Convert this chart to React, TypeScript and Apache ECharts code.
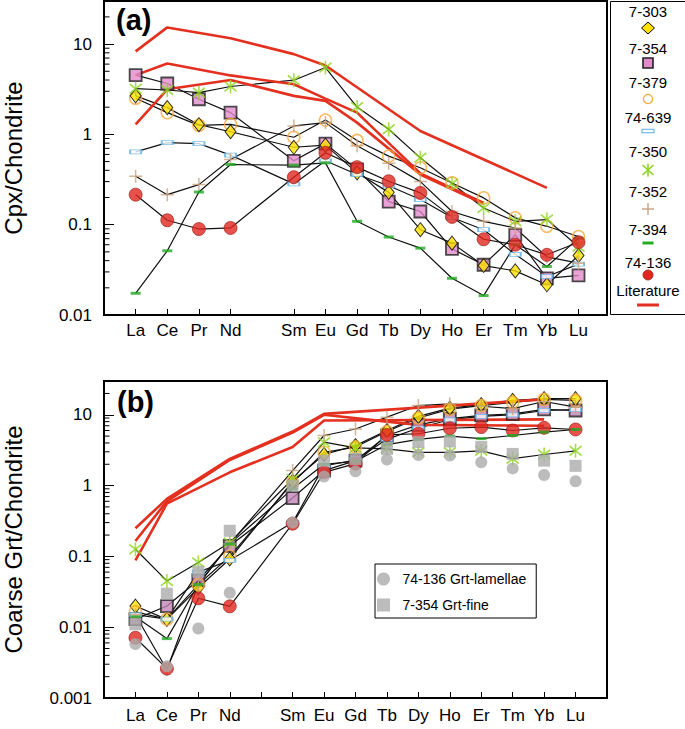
import React, { useEffect, useRef } from "react";
import * as echarts from "echarts";

// ---------- DATA ----------
const REE = ["La", "Ce", "Pr", "Nd", "Sm", "Eu", "Gd", "Tb", "Dy", "Ho", "Er", "Tm", "Yb", "Lu"];
const ATOMIC = [57, 58, 59, 60, 62, 63, 64, 65, 66, 67, 68, 69, 70, 71];

const SAMPLES = ["7-303", "7-354", "7-379", "74-639", "7-350", "7-352", "7-394", "74-136"];

// Panel (a): Cpx / Chondrite
const cpx7303 = [2.67, 1.98, 1.28, 1.07, 0.72, 0.76, 0.375, 0.228, 0.088, 0.0625, 0.0353, 0.0308, 0.0216, 0.0456];
const cpx7354 = [4.53, 3.66, 2.45, 1.74, 0.51, 0.79, 0.41, 0.18, 0.14, 0.054, 0.036, 0.077, 0.0255, 0.0274];
const cpx7379 = [2.51, 1.74, 1.26, 1.29, 0.93, 1.44, 0.857, 0.574, 0.427, 0.29, 0.198, 0.119, 0.096, 0.074];
const cpx74639 = [0.64, 0.81, 0.79, 0.59, 0.283, 0.51, 0.36, 0.27, 0.19, 0.12, 0.088, 0.047, 0.0267, 0.0366];
const cpx7350 = [3.21, 3.1, 2.9, 3.39, 3.98, 5.5, 2.01, 1.14, 0.55, 0.286, 0.153, 0.109, 0.114, 0.057];
const cpx7352 = [0.344, 0.215, 0.278, 0.527, 1.24, 1.35, 0.75, 0.48, 0.3, 0.14, 0.109, 0.092, 0.044, 0.0375];
const cpx7394 = [0.0174, 0.0514, 0.23, 0.464, 0.456, 0.484, 0.109, 0.073, 0.055, 0.0255, 0.0164, 0.06, 0.0344, 0.071];
const cpx74136 = [0.215, 0.112, 0.0895, 0.092, 0.336, 0.625, 0.434, 0.303, 0.225, 0.122, 0.069, 0.06, 0.0464, 0.064];

const litCpx1El = ["La", "Ce", "Nd", "Sm", "Eu", "Dy", "Yb"];
const litCpx1 = [8.3, 15.3, 11.6, 7.74, 5.8, 1.09, 0.256];
const litCpx2El = ["La", "Ce", "Nd", "Sm", "Eu", "Gd", "Dy", "Er"];
const litCpx2 = [4.53, 6.1, 4.5, 3.59, 2.49, 1.74, 0.37, 0.174];
const litCpx3El = ["La", "Ce", "Nd", "Sm", "Eu", "Gd", "Dy", "Er"];
const litCpx3 = [1.29, 3.16, 4.0, 2.67, 2.35, 1.35, 0.36, 0.17];

// Panel (b): Coarse Grt / Chondrite
const grt7303 = [0.0199, 0.0129, 0.036, 0.092, 1.15, 2.75, 3.67, 6.0, 9.5, 12.4, 13.9, 16, 16.9, 16.9];
const grt7354 = [0.013, 0.0199, 0.046, 0.141, 0.667, 1.63, 2.25, 5.1, 7.2, 8.8, 9.8, 10.3, 11.9, 11.5];
const grt7379 = [0.0165, 0.013, 0.04, 0.1, 1.1, 2.95, 3.5, 5.8, 9.0, 12.0, 13.5, 15.0, 16.5, 16.0];
const grt74639 = [0.015, 0.013, 0.06, 0.088, 0.3, 1.9, 2.3, 4.5, 6.5, 8.5, 9.5, 10.0, 11.5, 11.8];
const grt7350 = [0.126, 0.045, 0.082, 0.157, 1.24, 4.1, 3.4, 3.3, 2.95, 2.95, 3.1, 2.4, 2.75, 3.1];
const grt7352 = [0.015, 0.0025, 0.04, 0.15, 1.63, 5.1, 6.3, 9.25, 13.5, 14.3, 13.2, 12.2, 15.4, 12.8];
const grt7394 = [0.014, 0.0069, 0.04, 0.15, 0.9, 2.0, 2.2, 3.8, 4.5, 5.0, 4.6, 5.1, 5.7, 6.2];
const grt74136 = [0.0071, 0.0026, 0.0256, 0.0197, 0.29, 1.54, 2.04, 5.2, 5.4, 6.45, 6.7, 6.0, 6.55, 6.2];
const grtLamellae74136 = [0.0058, 0.0028, 0.0096, 0.0307, 0.3, 1.34, 1.59, 2.33, 2.71, 2.66, 2.13, 1.75, 1.41, 1.15];
const grtFine7354 = [0.011, 0.0297, 0.061, 0.23, 1.0, 2.25, 2.38, 3.3, 4.1, 4.2, 3.5, 2.8, 2.25, 1.9];

const litGrtAEl = ["La", "Ce", "Nd", "Sm", "Eu", "Yb"];
const litGrtA = [0.25, 0.65, 2.38, 5.8, 10.3, 16.5];
const litGrtBEl = ["La", "Ce", "Nd", "Sm", "Eu", "Yb"];
const litGrtB = [0.088, 0.555, 1.54, 3.5, 8.3, 8.6];
const litGrtCEl = ["La", "Ce", "Nd", "Sm", "Eu", "Tb", "Dy", "Yb"];
const litGrtC = [0.165, 0.6, 2.3, 5.6, 10.0, 8.0, 7.2, 7.0];

// axis tick values
const minorTicksA = [0.02, 0.03, 0.04, 0.05, 0.06, 0.07, 0.08, 0.09, 0.2, 0.3, 0.4, 0.5, 0.6, 0.7, 0.8, 0.9, 2, 3, 4, 5, 6, 7, 8, 9, 20];
const minorTicksB = [0.002, 0.003, 0.004, 0.005, 0.006, 0.007, 0.008, 0.009, 0.02, 0.03, 0.04, 0.05, 0.06, 0.07, 0.08, 0.09, 0.2, 0.3, 0.4, 0.5, 0.6, 0.7, 0.8, 0.9, 2, 3, 4, 5, 6, 7, 8, 9, 20];

const LAMELLAE_NAME = "74-136 Grt-lamellae";
const FINE_NAME = "7-354 Grt-fine";

// ---------- STYLES ----------
const FONT = "'Liberation Sans', Arial, Helvetica, sans-serif";
const LIT_RED = "#E3301F";
const ASTERISK = "path://M5,0L5,10M0.8,1.6L9.2,8.4M0.8,8.4L9.2,1.6";
const PLUS = "path://M5,0L5,10M0,5L10,5";
const SQUARE = "path://M0,0L10,0L10,10L0,10Z";

const symStyle = (name: string, panel: number): any => {
  switch (name) {
    case "7-303":
      return { symbol: "diamond", symbolSize: [11, 14], itemStyle: { color: "#FFE100", borderColor: "#000", borderWidth: 1 } };
    case "7-354":
      return { symbol: "rect", symbolSize: 12, itemStyle: { color: panel === 0 ? "#E28BCB" : "#C283B5", borderColor: "#222", borderWidth: 1.8 } };
    case "7-379":
      return { symbol: "circle", symbolSize: 12, itemStyle: { color: "rgba(255,255,255,0)", borderColor: "#F7A93C", borderWidth: 1.5 } };
    case "74-639":
      return { symbol: "rect", symbolSize: [11, 4], itemStyle: { color: "#ffffff", borderColor: "#5AAFE3", borderWidth: 1.2 } };
    case "7-350":
      return { symbol: ASTERISK, symbolSize: [12, 14], itemStyle: { color: "rgba(0,0,0,0)", borderColor: "#8FD41F", borderWidth: 1.7 } };
    case "7-352":
      return { symbol: PLUS, symbolSize: 13, itemStyle: { color: "rgba(0,0,0,0)", borderColor: "#C9A27E", borderWidth: 1.5 } };
    case "7-394":
      return { symbol: "rect", symbolSize: [10, 3], itemStyle: { color: "#22AA22" } };
    default:
      return { symbol: "circle", symbolSize: 13, itemStyle: { color: "#E0261E", borderColor: "#9B1B14", borderWidth: 0.8 } };
  }
};

const cpxData: Record<string, number[]> = {
  "7-303": cpx7303, "7-354": cpx7354, "7-379": cpx7379, "74-639": cpx74639,
  "7-350": cpx7350, "7-352": cpx7352, "7-394": cpx7394, "74-136": cpx74136,
};
const grtData: Record<string, number[]> = {
  "7-303": grt7303, "7-354": grt7354, "7-379": grt7379, "74-639": grt74639,
  "7-350": grt7350, "7-352": grt7352, "7-394": grt7394, "74-136": grt74136,
};

const ORDER_A = ["7-354", "7-379", "7-303", "74-639", "7-350", "7-352", "7-394", "74-136"];
const ORDER_B = ["7-354", "7-303", "7-379", "74-639", "7-350", "7-352", "74-136", "7-394"];

const full = (vals: number[]) => ATOMIC.map((z, i) => [z, vals[i]]);
const pts = (els: string[], vals: number[]) => els.map((e, i) => [ATOMIC[REE.indexOf(e)], vals[i]]);

const xName = (v: number) => {
  const r = Math.round(v);
  if (Math.abs(v - r) > 1e-6) return "";
  const i = ATOMIC.indexOf(r);
  return i >= 0 ? REE[i] : "";
};
const yFmt = (v: number) => (v > 15 ? "" : String(+Number(v).toPrecision(3)));

const GRIDS = [
  { left: 104, top: 1, width: 503, height: 314 },
  { left: 104, top: 381, width: 503, height: 317 },
];

// ---------- LEGEND (a) layout ----------
const LEG_ITEMS = [...SAMPLES, "Literature"];
const LEG_TEXT_Y = [11, 48, 82, 117, 151, 191, 229, 262, 290];
const LEG_SYM_Y = [28, 63, 99, 131, 170, 209, 243, 275, 305];
const LEG_CX = 648;
const LZ = 100;

const legendIcon = (name: string, cx: number, cy: number): any[] => {
  switch (name) {
    case "7-303":
      return [{ type: "polygon", z: LZ, shape: { points: [[cx, cy - 6], [cx + 6.5, cy], [cx, cy + 6], [cx - 6.5, cy]] }, style: { fill: "#FFE100", stroke: "#000", lineWidth: 1 } }];
    case "7-354":
      return [{ type: "rect", z: LZ, shape: { x: cx - 5, y: cy - 5, width: 10, height: 10 }, style: { fill: "#E28BCB", stroke: "#222", lineWidth: 1.6 } }];
    case "7-379":
      return [{ type: "circle", z: LZ, shape: { cx, cy, r: 4.6 }, style: { fill: "none", stroke: "#F7A93C", lineWidth: 1.3 } }];
    case "74-639":
      return [{ type: "rect", z: LZ, shape: { x: cx - 6, y: cy - 1.8, width: 12, height: 3.6 }, style: { fill: "#fff", stroke: "#5AAFE3", lineWidth: 1.1 } }];
    case "7-350":
      return [
        { type: "line", z: LZ, shape: { x1: cx, y1: cy - 6.5, x2: cx, y2: cy + 6.5 }, style: { stroke: "#8FD41F", lineWidth: 1.6 } },
        { type: "line", z: LZ, shape: { x1: cx - 5.5, y1: cy - 5, x2: cx + 5.5, y2: cy + 5 }, style: { stroke: "#8FD41F", lineWidth: 1.6 } },
        { type: "line", z: LZ, shape: { x1: cx - 5.5, y1: cy + 5, x2: cx + 5.5, y2: cy - 5 }, style: { stroke: "#8FD41F", lineWidth: 1.6 } },
      ];
    case "7-352":
      return [
        { type: "line", z: LZ, shape: { x1: cx, y1: cy - 6, x2: cx, y2: cy + 6 }, style: { stroke: "#C9A27E", lineWidth: 1.4 } },
        { type: "line", z: LZ, shape: { x1: cx - 6, y1: cy, x2: cx + 6, y2: cy }, style: { stroke: "#C9A27E", lineWidth: 1.4 } },
      ];
    case "7-394":
      return [{ type: "rect", z: LZ, shape: { x: cx - 5.5, y: cy - 1.5, width: 11, height: 3 }, style: { fill: "#22AA22" } }];
    case "74-136":
      return [{ type: "circle", z: LZ, shape: { cx, cy, r: 5 }, style: { fill: "#E0261E", stroke: "#9B1B14", lineWidth: 0.8 } }];
    default:
      return [{ type: "line", z: LZ, shape: { x1: cx - 11, y1: cy, x2: cx + 11, y2: cy }, style: { stroke: LIT_RED, lineWidth: 3 } }];
  }
};

function buildOption(): any {
  const series: any[] = [];

  const blackLines = (data: Record<string, number[]>, p: number) =>
    SAMPLES.forEach((s) =>
      series.push({
        type: "line", name: s, xAxisIndex: p, yAxisIndex: p, data: full(data[s]),
        symbol: "none", silent: true, z: 2,
        lineStyle: { color: "#111", width: 1.2 },
      })
    );
  const litLine = (d: number[][], p: number) =>
    series.push({
      type: "line", name: "Literature", xAxisIndex: p, yAxisIndex: p, data: d,
      symbol: "none", silent: true, z: 3,
      lineStyle: { color: LIT_RED, width: 2.6 },
    });
  const marks = (data: Record<string, number[]>, p: number, order: string[]) =>
    order.forEach((s) =>
      series.push({
        type: "scatter", name: s, xAxisIndex: p, yAxisIndex: p, data: full(data[s]), z: 4,
        ...symStyle(s, p),
      })
    );
  const minorTicks = (vals: number[], p: number) =>
    series.push({
      type: "custom", xAxisIndex: p, yAxisIndex: p, silent: true, z: 6, clip: false,
      dimensions: ["x", "y"],
      encode: { x: 0, y: 1 },
      data: vals.map((v) => [56, v]),
      renderItem: (_params: any, api: any) => {
        const c = api.coord([api.value(0), api.value(1)]);
        return {
          type: "line",
          shape: { x1: c[0], y1: c[1], x2: c[0] + 5.5, y2: c[1] },
          style: { stroke: "#000", lineWidth: 1 },
        };
      },
    });

  // panel (a)
  blackLines(cpxData, 0);
  litLine(pts(litCpx1El, litCpx1), 0);
  litLine(pts(litCpx2El, litCpx2), 0);
  litLine(pts(litCpx3El, litCpx3), 0);
  marks(cpxData, 0, ORDER_A);
  minorTicks(minorTicksA, 0);

  // panel (b)
  blackLines(grtData, 1);
  litLine(pts(litGrtAEl, litGrtA), 1);
  litLine(pts(litGrtBEl, litGrtB), 1);
  litLine(pts(litGrtCEl, litGrtC), 1);
  marks(grtData, 1, ORDER_B);
  series.push({
    type: "scatter", name: FINE_NAME, xAxisIndex: 1, yAxisIndex: 1, data: full(grtFine7354), z: 4,
    symbol: "rect", symbolSize: 12, itemStyle: { color: "#ABABAB" },
  });
  series.push({
    type: "scatter", name: LAMELLAE_NAME, xAxisIndex: 1, yAxisIndex: 1, data: full(grtLamellae74136), z: 4,
    symbol: "circle", symbolSize: 12, itemStyle: { color: "#ABABAB" },
  });
  minorTicks(minorTicksB, 1);

  const xAxisBase = (p: number, max: number) => ({
    type: "value", gridIndex: p, min: 56, max, interval: 1,
    axisLine: { show: false }, splitLine: { show: false },
    axisTick: { inside: true, length: 6, lineStyle: { color: "#000", width: 1 } },
    axisLabel: { formatter: xName, fontSize: 17, color: "#000", fontFamily: FONT, margin: p === 0 ? 7 : 9 },
  });
  const xa: any = xAxisBase(0, 71.9);
  xa.axisTick.customValues = ATOMIC;
  xa.axisLabel.customValues = ATOMIC;
  const xb: any = xAxisBase(1, 72);

  const yAxisBase = (p: number, min: number, name: string) => ({
    type: "log", logBase: 10, gridIndex: p, min, max: 30,
    axisLine: { show: false }, splitLine: { show: false },
    axisTick: { inside: true, length: 10, lineStyle: { color: "#000", width: 1 } },
    axisLabel: { formatter: yFmt, fontSize: 17, color: "#000", fontFamily: FONT, margin: 12 },
    name, nameLocation: "middle", nameGap: 79,
    nameTextStyle: { fontSize: 24, color: "#000", fontFamily: FONT },
  });

  const graphic: any[] = [
    { type: "text", left: 116, top: 5, z: 100, style: { text: "(a)", fontSize: 29, fontWeight: "bold", fill: "#000", fontFamily: FONT } },
    { type: "text", left: 117, top: 387, z: 100, style: { text: "(b)", fontSize: 29, fontWeight: "bold", fill: "#000", fontFamily: FONT } },
    { type: "rect", z: 90, shape: { x: 610.5, y: 1.5, width: 80, height: 313 }, style: { fill: "#fff", stroke: "#000", lineWidth: 1 } },
  ];
  LEG_ITEMS.forEach((n, i) => {
    graphic.push({
      type: "text", z: LZ, x: LEG_CX, y: LEG_TEXT_Y[i],
      style: { text: n, fontSize: 15, fill: "#000", fontFamily: FONT, textAlign: "center", textVerticalAlign: "middle" },
    });
    legendIcon(n, LEG_CX, LEG_SYM_Y[i]).forEach((el) => graphic.push(el));
  });

  return {
    animation: false,
    backgroundColor: "#fff",
    textStyle: { fontFamily: FONT },
    grid: GRIDS.map((g) => ({
      ...g, show: true, borderColor: "#000", borderWidth: 2, backgroundColor: "transparent",
      containLabel: false, outerBoundsMode: "none",
    })),
    xAxis: [xa, xb],
    yAxis: [yAxisBase(0, 0.01, "Cpx/Chondrite"), yAxisBase(1, 0.001, "Coarse Grt/Chondrite")],
    legend: {
      data: [
        { name: LAMELLAE_NAME, icon: "circle" },
        { name: FINE_NAME, icon: SQUARE },
      ],
      orient: "vertical", left: 375, top: 564,
      itemWidth: 28, itemHeight: 13, itemGap: 12,
      padding: [8, 10, 6, 2],
      borderColor: "#000", borderWidth: 1, backgroundColor: "#fff",
      selectedMode: false,
      textStyle: { fontSize: 14, color: "#000", fontFamily: FONT },
    },
    graphic,
    series,
  };
}

export default function App() {
  const ref = useRef<HTMLDivElement>(null);
  useEffect(() => {
    const chart = echarts.init(ref.current!, null, { renderer: "svg" });
    chart.setOption(buildOption());
    return () => chart.dispose();
  }, []);
  return (
    <div
      ref={ref}
      style={{ position: "absolute", left: 0, top: 0, width: 685, height: 729, background: "#fff" }}
    />
  );
}
